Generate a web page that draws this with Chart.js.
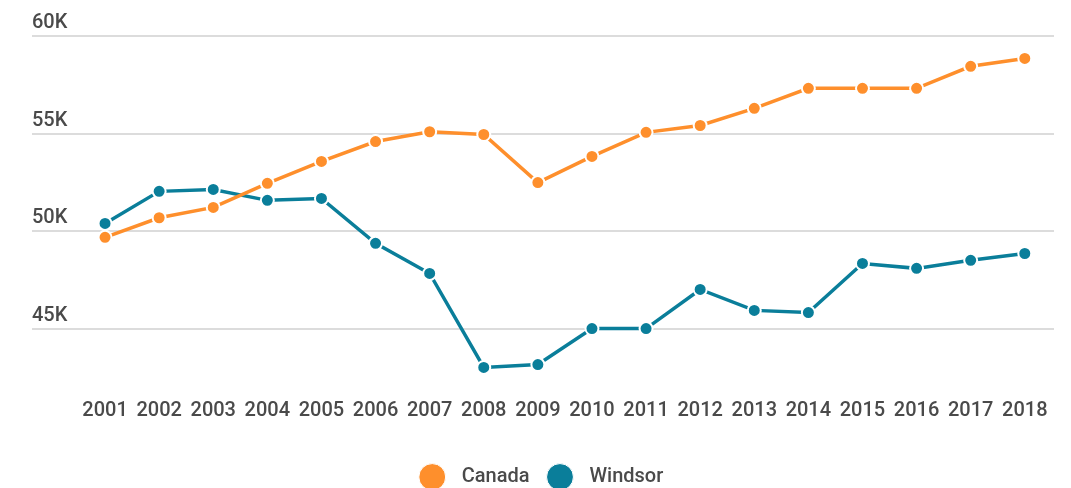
<!DOCTYPE html>
<html>
<head>
<meta charset="utf-8">
<script src="https://cdn.jsdelivr.net/npm/chart.js@4"></script>
<style>
  html, body { margin: 0; padding: 0; background: #fff; }
  #wrap { width: 1071px; height: 488px; }
</style>
</head>
<body>
<div id="wrap"><canvas id="chart"></canvas></div>
<script>
const years = [2001, 2002, 2003, 2004, 2005, 2006, 2007, 2008, 2009, 2010, 2011, 2012, 2013, 2014, 2015, 2016, 2017, 2018];
const canada = [49700, 50700, 51230, 52460, 53580, 54600, 55100, 54960, 52500, 53840, 55070, 55420, 56300, 57320, 57320, 57320, 58450, 58850];
const windsor = [50410, 52050, 52150, 51590, 51690, 49390, 47850, 43040, 43190, 45030, 45030, 47030, 45960, 45850, 48360, 48110, 48520, 48870];
const yTicks = [45000, 50000, 55000, 60000];

const orange = '#fe8f2c';
const teal = '#0a7e9a';
const textColor = '#4a4a4a';

Chart.defaults.font.family = 'Roboto, sans-serif';
Chart.defaults.font.size = 20;
Chart.defaults.font.weight = '500';
Chart.defaults.color = textColor;

const toPoints = vals => vals.map((v, i) => ({ x: years[i], y: v }));

const lineSet = (label, vals, color) => ({
  label: label,
  data: toPoints(vals),
  borderColor: color,
  backgroundColor: color,
  borderWidth: 3.5,
  pointRadius: 6.5,
  pointBorderWidth: 2,
  pointBorderColor: '#fff',
  pointBackgroundColor: color,
  tension: 0
});

new Chart(document.getElementById('chart'), {
  type: 'line',
  data: {
    datasets: [
      lineSet('Canada', canada, orange),
      lineSet('Windsor', windsor, teal)
    ]
  },
  options: {
    responsive: true,
    maintainAspectRatio: false,
    animation: false,
    layout: { padding: { left: 32, right: 17, top: 36, bottom: -9 } },
    scales: {
      x: {
        type: 'linear',
        min: 1999.65,
        max: 2018.54,
        grid: { display: false },
        border: { display: false },
        afterBuildTicks: scale => {
          scale.ticks = years.map(y => ({ value: y }));
        },
        afterFit: scale => { scale.height += 10; },
        ticks: {
          autoSkip: false,
          maxRotation: 0,
          padding: 13,
          callback: v => String(v)
        }
      },
      y: {
        min: 42500,
        max: 60000,
        border: { display: false },
        grid: { color: '#dcdcdc', lineWidth: 2, drawTicks: false },
        afterBuildTicks: scale => {
          scale.ticks = yTicks.map(v => ({ value: v }));
        },
        ticks: {
          mirror: true,
          padding: 0,
          labelOffset: -13,
          callback: v => (v / 1000) + 'K'
        }
      }
    },
    plugins: {
      legend: {
        position: 'bottom',
        labels: {
          usePointStyle: true,
          pointStyle: 'circle',
          boxWidth: 19,
          boxHeight: 19,
          padding: 21,
          generateLabels: chart => Chart.defaults.plugins.legend.labels.generateLabels(chart)
            .map(item => Object.assign(item, { text: '  ' + item.text, lineWidth: 1 }))
        }
      },
      tooltip: { enabled: false }
    }
  }
});
</script>
</body>
</html>
